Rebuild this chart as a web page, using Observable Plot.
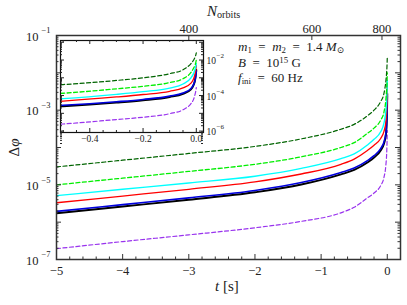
<!DOCTYPE html>
<html><head><meta charset="utf-8">
<script src="https://cdn.jsdelivr.net/npm/d3@7"></script>
<script src="https://cdn.jsdelivr.net/npm/@observablehq/plot@0.6"></script>
<style>
body{margin:0;background:#fff;}
#wrap{position:relative;width:407px;height:305px;font-family:"Liberation Serif","DejaVu Serif",serif;color:#222;overflow:hidden;}
#wrap svg{position:absolute;left:0;top:0;}
.lbl{position:absolute;white-space:nowrap;line-height:1;}
.lbl sub{font-size:68%;line-height:0;vertical-align:-0.22em;}
.lbl sup{font-size:68%;line-height:0;vertical-align:0.45em;}
</style></head><body>
<div id="wrap"></div>
<script>
// ---- data ----
const tValues = [-5,-4,-3,-2,-1.3,-0.7,-0.5,-0.3,-0.2,-0.1,-0.05,-0.02,-0.01,-0.005,-0.002,0];
const darkGreenDashed = [3.02e-5,4.57e-5,6.92e-5,1.07e-4,1.70e-4,3.09e-4,4.17e-4,7.08e-4,1.0e-3,1.70e-3,2.82e-3,6.31e-3,1.0e-2,1.41e-2,1.91e-2,2.51e-2];
const limeDashed      = [1.0e-5,1.51e-5,2.29e-5,3.55e-5,5.62e-5,1.0e-4,1.35e-4,2.40e-4,3.31e-4,5.37e-4,8.91e-4,2.0e-3,3.55e-3,5.01e-3,7.08e-3,1.0e-2];
const cyanSolid       = [5.13e-6,7.59e-6,1.12e-5,1.70e-5,2.75e-5,5.01e-5,6.76e-5,1.17e-4,1.66e-4,2.63e-4,4.47e-4,1.0e-3,1.78e-3,2.82e-3,4.17e-3,6.31e-3];
const redSolid        = [3.31e-6,5.01e-6,7.59e-6,1.20e-5,1.95e-5,3.55e-5,4.90e-5,8.32e-5,1.15e-4,1.74e-4,2.69e-4,5.01e-4,8.91e-4,1.58e-3,2.82e-3,4.79e-3];
const blueSolid       = [1.95e-6,2.95e-6,4.47e-6,7.08e-6,1.15e-5,2.14e-5,2.82e-5,4.47e-5,6.03e-5,9.33e-5,1.41e-4,2.51e-4,4.27e-4,7.08e-4,1.32e-3,2.40e-3];
const blackSolid      = [1.74e-6,2.63e-6,3.98e-6,6.31e-6,1.02e-5,1.91e-5,2.51e-5,3.98e-5,5.37e-5,8.32e-5,1.26e-4,2.24e-4,3.98e-4,7.08e-4,1.41e-3,2.75e-3];
const purpleDashed    = [1.95e-7,3.02e-7,4.57e-7,7.08e-7,1.05e-6,1.78e-6,2.51e-6,4.47e-6,6.03e-6,9.55e-6,1.58e-5,3.55e-5,6.31e-5,1.12e-4,1.78e-4,2.82e-4];

const xTickLabels = [-5,-4,-3,-2,-1,0];
const yTickExponents = [-1,-3,-5,-7];
const nOrbitsLabels = [400,600,800];
const nOrbitsAtT = [-3.0,-1.14,-0.08];
const insetXTickLabels = [-0.4,-0.2,0.0];
const insetYTickExponents = [-2,-4,-6];

// ---- styles ----
const seriesList = [
  {v: purpleDashed,    stroke:"#9933ee", w:1.2, dash:"4,2.5"},
  {v: blackSolid,      stroke:"#000000", w:1.9, dash:null},
  {v: blueSolid,       stroke:"#0000dd", w:1.6, dash:null},
  {v: redSolid,        stroke:"#ff0000", w:1.3, dash:null},
  {v: cyanSolid,       stroke:"#00ffff", w:1.4, dash:null},
  {v: limeDashed,      stroke:"#00ee00", w:1.3, dash:"4,2.5"},
  {v: darkGreenDashed, stroke:"#006400", w:1.2, dash:"4,2.5"}
];
const rowsOf = (vals) => tValues.map((t,i) => ({t, v: vals[i]}));
const minus = s => String(s).replace("-", "\u2212");
const decades = (a,b) => d3.range(a,b+1).map(e => Math.pow(10,e));
const minorsLog = (a,b) => d3.range(a,b).flatMap(e => d3.range(2,10).map(m => m*Math.pow(10,e)));

const W = 407, H = 305;
const font = '"Liberation Serif", "DejaVu Serif", serif';
const wrap = document.getElementById("wrap");

// ---- main plot ----
const mL=56, mR=7, mT=35, mB=46;
const fw = W-mL-mR, fh = H-mT-mB;
const mainMarks = [];
for (const s of seriesList) {
  mainMarks.push(Plot.line(rowsOf(s.v), {x:"t", y:"v", stroke:s.stroke, strokeWidth:s.w, strokeDasharray:s.dash, curve:"monotone-x", clip:true}));
}
const xMinor = d3.range(-50, 3).map(d => d/10).filter(d => Math.round(d*10) % 2 === 0 && !Number.isInteger(d));
mainMarks.push(
  Plot.frame({stroke:"#333", strokeWidth:1.5}),
  Plot.ruleX(xTickLabels, {x:d=>d, insetTop: fh-5, stroke:"#333"}),
  Plot.ruleX(xMinor, {x:d=>d, insetTop: fh-2.5, stroke:"#333"}),
  Plot.ruleX(nOrbitsAtT, {x:d=>d, insetBottom: fh-5, stroke:"#333"}),
  Plot.ruleY(decades(-7,-1), {y:d=>d, insetRight: fw-5, stroke:"#333"}),
  Plot.ruleY(minorsLog(-7,-1), {y:d=>d, insetRight: fw-2.5, stroke:"#333"}),
  Plot.ruleY(decades(-7,-1), {y:d=>d, insetLeft: fw-5, stroke:"#333"}),
  Plot.ruleY(minorsLog(-7,-1), {y:d=>d, insetLeft: fw-2.5, stroke:"#333"}),
  Plot.text(xTickLabels, {x:d=>d, frameAnchor:"bottom", lineAnchor:"top", dy:7, text:d=>minus(d), fontSize:12.5, fill:"#222"}),
  Plot.text(nOrbitsLabels, {x:(d,i)=>nOrbitsAtT[i], frameAnchor:"top", lineAnchor:"bottom", dy:-3, text:d=>String(d), fontSize:12.5, fill:"#222"}),
  Plot.text(yTickExponents, {y:d=>Math.pow(10,d), frameAnchor:"left", textAnchor:"end", dx:-18, dy:1, text:()=>"10", fontSize:12.5, fill:"#222"}),
  Plot.text(yTickExponents, {y:d=>Math.pow(10,d), frameAnchor:"left", textAnchor:"end", dx:-6, dy:-5, text:d=>minus(d), fontSize:8.5, fill:"#222"})
);
const main = Plot.plot({
  width:W, height:H, marginLeft:mL, marginRight:mR, marginTop:mT, marginBottom:mB,
  x:{domain:[-5,0.2], axis:null},
  y:{type:"log", domain:[1e-7,1e-1], axis:null},
  style:{fontFamily:font, background:"transparent", overflow:"visible"},
  marks: mainMarks
});
wrap.appendChild(main);

// ---- inset ----
const iL=60, iR=W-203, iT=40, iB=H-132;
const ifw = W-iL-iR, ifh = H-iT-iB;
const insetMarks = [Plot.frame({fill:"white", stroke:"none"})];
for (const s of seriesList) {
  insetMarks.push(Plot.line(rowsOf(s.v), {x:"t", y:"v", stroke:s.stroke, strokeWidth:s.w, strokeDasharray:s.dash, curve:"monotone-x", clip:true}));
}
const ixMinor = [-0.5,-0.45,-0.35,-0.3,-0.25,-0.15,-0.1,-0.05];
insetMarks.push(
  Plot.frame({stroke:"#111", strokeWidth:1.2}),
  Plot.ruleX(insetXTickLabels, {x:d=>d, insetTop: ifh-4, stroke:"#222"}),
  Plot.ruleX(ixMinor, {x:d=>d, insetTop: ifh-2, stroke:"#222"}),
  Plot.ruleX(insetXTickLabels, {x:d=>d, insetBottom: ifh-4, stroke:"#222"}),
  Plot.ruleX(ixMinor, {x:d=>d, insetBottom: ifh-2, stroke:"#222"}),
  Plot.ruleY(decades(-6,-1), {y:d=>d, insetRight: ifw-4, stroke:"#222"}),
  Plot.ruleY(minorsLog(-7,-1), {y:d=>d, insetRight: ifw-2, stroke:"#222"}),
  Plot.ruleY(decades(-6,-1), {y:d=>d, insetLeft: ifw-4, stroke:"#222"}),
  Plot.ruleY(minorsLog(-7,-1), {y:d=>d, insetLeft: ifw-2, stroke:"#222"}),
  Plot.text(insetXTickLabels, {x:d=>d, frameAnchor:"bottom", lineAnchor:"top", dy:3, text:d=>minus(d.toFixed(1)), fontSize:9.5, fill:"#222"}),
  Plot.text(insetYTickExponents, {y:d=>Math.pow(10,d), frameAnchor:"right", textAnchor:"start", dx:3, dy:1, text:()=>"10", fontSize:9.5, fill:"#222"}),
  Plot.text(insetYTickExponents, {y:d=>Math.pow(10,d), frameAnchor:"right", textAnchor:"start", dx:13, dy:-4, text:d=>minus(d), fontSize:7, fill:"#222"})
);
const inset = Plot.plot({
  width:W, height:H, marginLeft:iL, marginRight:iR, marginTop:iT, marginBottom:iB,
  x:{domain:[-0.51,0.027], axis:null},
  y:{type:"log", domain:[Math.pow(10,-6.08), Math.pow(10,-0.9)], axis:null},
  style:{fontFamily:font, background:"transparent", overflow:"visible"},
  marks: insetMarks
});
wrap.appendChild(inset);

// ---- text labels ----
function addLabel(html, left, top, extra) {
  const d = document.createElement("div");
  d.className = "lbl";
  d.innerHTML = html;
  d.style.left = left + "px";
  d.style.top = top + "px";
  if (extra) Object.assign(d.style, extra);
  wrap.appendChild(d);
  return d;
}
addLabel('<i>N</i><sub>orbits</sub>', 207, 4, {fontSize:"15px"});
addLabel('<i>t</i> [s]', 215, 279, {fontSize:"15px"});
addLabel('\u0394<i>\u03c6</i>', 6, 140, {fontSize:"15px", transform:"rotate(-90deg)", transformOrigin:"center"});
addLabel('<i>m</i><sub>1</sub> &nbsp;= &nbsp;<i>m</i><sub>2</sub> &nbsp;= &nbsp;1.4 <i>M</i><sub>\u2299</sub>', 238, 40, {fontSize:"13px"});
addLabel('<i>B</i> &nbsp;= &nbsp;10<sup>15</sup> G', 238, 56, {fontSize:"13px"});
addLabel('<i>f</i><sub>ini</sub> &nbsp;= &nbsp;60 Hz', 238, 71, {fontSize:"13px"});
</script>
</body></html>
